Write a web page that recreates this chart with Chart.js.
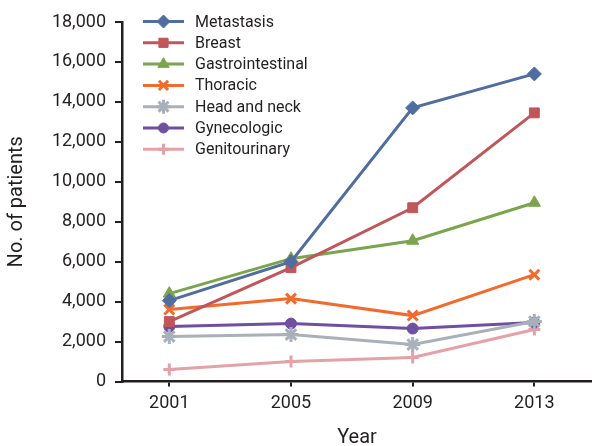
<!DOCTYPE html>
<html>
<head>
<meta charset="utf-8">
<script src="https://cdn.jsdelivr.net/npm/chart.js"></script>
<style>
  body { margin: 0; background: #fff; }
</style>
</head>
<body>
<canvas id="lineChart" width="592" height="446"></canvas>
<script>
// data
var years = [2001, 2005, 2009, 2013];
var yTicks = [0, 2000, 4000, 6000, 8000, 10000, 12000, 14000, 16000, 18000];

var metastasis    = [4050, 6000, 13700, 15400];
var breast        = [3000, 5700, 8700, 13450];
var gastro        = [4400, 6150, 7050, 8950];
var thoracic      = [3600, 4150, 3300, 5350];
var headNeck      = [2250, 2350, 1850, 3000];
var gynecologic   = [2750, 2900, 2650, 2950];
var genitourinary = [600, 1000, 1200, 2600];

var seriesNames = ["Metastasis", "Breast", "Gastrointestinal", "Thoracic", "Head and neck", "Gynecologic", "Genitourinary"];
var seriesData = [metastasis, breast, gastro, thoracic, headNeck, gynecologic, genitourinary];
var colors = ["#4F6D9E", "#C0565A", "#7BA44E", "#F26B2C", "#A8B0BA", "#6E4FA0", "#E3A2A8"];
var markers = ["rectRot", "rect", "triangle", "crossRot", "star", "circle", "cross"];
var radii = [7, 7, 7, 7, 7.5, 5.5, 6];

var FONT = "Roboto";
var INK = "#231F20";

function toPoints(vals) {
  var pts = [];
  for (var i = 0; i < vals.length; i++) {
    pts.push({x: years[i], y: vals[i]});
  }
  return pts;
}

var datasets = [];
for (var i = 0; i < seriesNames.length; i++) {
  var stroked = (markers[i] == "crossRot" || markers[i] == "star" || markers[i] == "cross");
  datasets.push({
    label: seriesNames[i],
    data: toPoints(seriesData[i]),
    borderColor: colors[i],
    backgroundColor: colors[i],
    borderWidth: 3,
    pointStyle: markers[i],
    pointRadius: radii[i],
    pointHoverRadius: radii[i],
    pointBorderWidth: stroked ? 3 : 1,
    tension: 0,
    clip: false
  });
}

//legend drawn inside the plot, line + marker like the original
var insideLegend = {
  id: "insideLegend",
  afterDraw: function(chart) {
    var ctx = chart.ctx;
    ctx.save();
    ctx.font = "16px " + FONT;
    ctx.textBaseline = "middle";
    ctx.textAlign = "left";
    for (var i = 0; i < chart.data.datasets.length; i++) {
      var ds = chart.data.datasets[i];
      var y = 21.5 + i * 21.3;
      ctx.strokeStyle = ds.borderColor;
      ctx.fillStyle = ds.borderColor;
      ctx.lineWidth = 3;
      ctx.beginPath();
      ctx.moveTo(143, y);
      ctx.lineTo(184, y);
      ctx.stroke();
      ctx.lineWidth = ds.pointBorderWidth;
      Chart.helpers.drawPoint(ctx, {
        pointStyle: ds.pointStyle,
        radius: ds.pointRadius - 0.5,
        borderWidth: ds.pointBorderWidth,
        rotation: 0
      }, 163.5, y);
      ctx.fillStyle = INK;
      ctx.fillText(ds.label, 195, y + 1);
    }
    ctx.restore();
  }
};

new Chart(document.getElementById("lineChart").getContext("2d"), {
  type: "line",
  data: { datasets: datasets },
  plugins: [insideLegend],
  options: {
    responsive: false,
    animation: false,
    layout: { autoPadding: false, padding: { top: 22, right: 0, left: 0, bottom: 0 } },
    plugins: {
      legend: { display: false },
      tooltip: { enabled: false }
    },
    scales: {
      x: {
        type: "linear",
        min: 1999.445,
        max: 2014.895,
        afterBuildTicks: function(scale) {
          scale.ticks = years.map(function(v) { return {value: v}; });
        },
        afterFit: function(scale) {
          scale.height = 64.5;
          scale.paddingLeft = 0;
          scale.paddingRight = 0;
        },
        border: { display: true, color: INK, width: 2.5 },
        grid: { display: true, drawOnChartArea: false, drawTicks: true, tickLength: 5, color: INK, lineWidth: 2 },
        ticks: {
          color: INK,
          padding: 6,
          maxRotation: 0,
          font: { family: FONT, size: 18 },
          callback: function(v) { return String(v); }
        },
        title: {
          display: true,
          text: "Year",
          color: INK,
          font: { family: FONT, size: 20, lineHeight: 0.8 },
          padding: 0
        }
      },
      y: {
        min: 0,
        max: 18000,
        afterBuildTicks: function(scale) {
          scale.ticks = yTicks.map(function(v) { return {value: v}; });
        },
        afterFit: function(scale) { scale.width = 122; },
        border: { display: true, color: INK, width: 2.5 },
        grid: { display: true, drawOnChartArea: false, drawTicks: true, tickLength: 7, color: INK, lineWidth: 2 },
        ticks: {
          color: INK,
          padding: 9,
          font: { family: FONT, size: 18 },
          callback: function(v) { return v.toLocaleString("en-US"); }
        },
        title: {
          display: true,
          text: "No. of patients",
          color: INK,
          font: { family: FONT, size: 20, lineHeight: 1 },
          padding: { top: 7, bottom: 0 }
        }
      }
    }
  }
});
</script>
</body>
</html>
